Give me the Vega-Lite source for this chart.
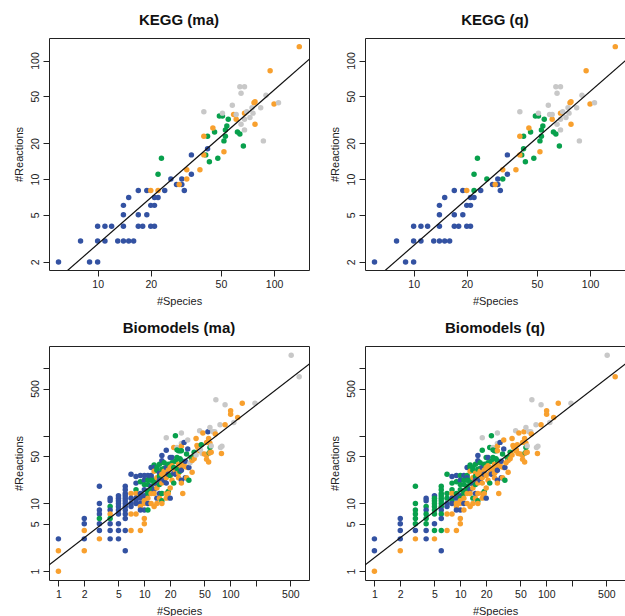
{
  "$schema": "https://vega.github.io/schema/vega-lite/v6.json",
  "background": "white",
  "padding": {"left": 12, "top": 12, "right": 0, "bottom": 0},
  "bounds": "flush",
  "columns": 2,
  "spacing": {"row": 76, "column": 56},
  "resolve": {"scale": {"x": "independent", "y": "independent"}},
  "config": {
    "font": "Liberation Sans",
    "view": {"stroke": "#222", "strokeWidth": 1, "fill": "white"},
    "axis": {
      "domain": false, "grid": false, "ticks": true, "tickSize": 6, "tickColor": "#222", "tickWidth": 1,
      "labelFont": "Liberation Sans", "labelFontSize": 10.5, "labelColor": "#222", "labelPadding": 3,
      "titleFont": "Liberation Sans", "titleFontSize": 11, "titleFontWeight": "normal", "titleColor": "#222", "titlePadding": 6,
      "labelOverlap": false, "labelFlush": false
    },
    "axisY": {"labelAngle": -90, "labelAlign": "center", "labelBaseline": "bottom"},
    "title": {"font": "Liberation Sans", "fontSize": 15, "fontWeight": "bold", "color": "#111", "offset": 10, "anchor": "middle"}
  },
  "datasets": {
    "kegg": [
      {"s":6,"r":2,"m":"b","q":"b"},{"s":8,"r":3,"m":"b","q":"b"},{"s":9,"r":2,"m":"b","q":"b"},{"s":10,"r":2,"m":"b","q":"b"},
      {"s":10,"r":3,"m":"b","q":"b"},{"s":10,"r":4,"m":"b","q":"b"},{"s":11,"r":3,"m":"b","q":"b"},{"s":11,"r":4,"m":"b","q":"b"},
      {"s":12,"r":4,"m":"b","q":"b"},{"s":13,"r":3,"m":"b","q":"b"},{"s":14,"r":3,"m":"b","q":"b"},{"s":14,"r":4,"m":"b","q":"b"},
      {"s":14,"r":5,"m":"b","q":"b"},{"s":14,"r":6,"m":"b","q":"b"},{"s":15,"r":7,"m":"b","q":"b"},{"s":15,"r":3,"m":"b","q":"b"},
      {"s":16,"r":3,"m":"b","q":"b"},{"s":17,"r":8,"m":"b","q":"b"},{"s":17,"r":5,"m":"b","q":"b"},{"s":17,"r":4,"m":"b","q":"b"},
      {"s":18,"r":4,"m":"b","q":"b"},{"s":19,"r":8,"m":"b","q":"b"},{"s":19,"r":5,"m":"b","q":"b"},{"s":20,"r":6,"m":"b","q":"b"},
      {"s":20,"r":4,"m":"b","q":"b"},{"s":21,"r":6,"m":"b","q":"b"},{"s":21,"r":4,"m":"b","q":"b"},{"s":21,"r":7,"m":"b","q":"b"},
      {"s":22,"r":7,"m":"b","q":"b"},{"s":24,"r":8,"m":"b","q":"b"},{"s":26,"r":10,"m":"b","q":"g"},{"s":28,"r":9,"m":"b","q":"b"},
      {"s":30,"r":9,"m":"b","q":"b"},{"s":30,"r":10,"m":"b","q":"b"},{"s":31,"r":8,"m":"b","q":"b"},{"s":34,"r":16,"m":"b","q":"b"},
      {"s":34,"r":11,"m":"b","q":"b"},{"s":42,"r":18,"m":"b","q":"g"},
      {"s":22,"r":11,"m":"g","q":"g"},{"s":23,"r":15,"m":"g","q":"g"},{"s":41,"r":16,"m":"g","q":"g"},{"s":42,"r":23,"m":"g","q":"g"},
      {"s":43,"r":14,"m":"g","q":"g"},{"s":46,"r":25,"m":"g","q":"g"},{"s":48,"r":15,"m":"g","q":"g"},{"s":49,"r":34,"m":"g","q":"g"},
      {"s":51,"r":34,"m":"g","q":"g"},{"s":52,"r":21,"m":"g","q":"g"},{"s":53,"r":26,"m":"g","q":"g"},{"s":53,"r":23,"m":"g","q":"g"},
      {"s":54,"r":28,"m":"g","q":"g"},{"s":55,"r":32,"m":"g","q":"g"},{"s":62,"r":25,"m":"g","q":"g"},{"s":64,"r":24,"m":"g","q":"g"},
      {"s":67,"r":19,"m":"g","q":"g"},
      {"s":20,"r":8,"m":"o","q":"o"},{"s":22,"r":8,"m":"o","q":"g"},{"s":29,"r":9,"m":"o","q":"o"},{"s":32,"r":10,"m":"o","q":"g"},
      {"s":32,"r":12,"m":"o","q":"o"},{"s":38,"r":12,"m":"o","q":"o"},{"s":40,"r":23,"m":"o","q":"o"},{"s":40,"r":16,"m":"o","q":"o"},
      {"s":45,"r":27,"m":"o","q":"o"},{"s":52,"r":17,"m":"o","q":"o"},{"s":59,"r":35,"m":"o","q":"n"},{"s":61,"r":32,"m":"o","q":"o"},
      {"s":68,"r":36,"m":"o","q":"o"},{"s":77,"r":44,"m":"o","q":"o"},{"s":78,"r":45,"m":"o","q":"o"},{"s":78,"r":29,"m":"o","q":"o"},
      {"s":95,"r":82,"m":"o","q":"o"},{"s":100,"r":43,"m":"o","q":"o"},{"s":139,"r":131,"m":"o","q":"o"},
      {"s":40,"r":37,"m":"n","q":"n"},{"s":51,"r":36,"m":"n","q":"n"},{"s":58,"r":42,"m":"n","q":"n"},{"s":61,"r":35,"m":"n","q":"n"},
      {"s":64,"r":60,"m":"n","q":"n"},{"s":65,"r":53,"m":"n","q":"n"},{"s":68,"r":60,"m":"n","q":"n"},{"s":65,"r":29,"m":"n","q":"n"},
      {"s":68,"r":32,"m":"n","q":"n"},{"s":68,"r":26,"m":"n","q":"n"},{"s":70,"r":37,"m":"n","q":"n"},{"s":73,"r":33,"m":"n","q":"n"},
      {"s":75,"r":40,"m":"n","q":"n"},{"s":76,"r":36,"m":"n","q":"n"},{"s":84,"r":40,"m":"n","q":"n"},{"s":87,"r":21,"m":"n","q":"n"},
      {"s":90,"r":51,"m":"n","q":"n"},{"s":106,"r":44,"m":"n","q":"n"}
    ],
    "bio": [
      {"s":1,"r":3,"m":"b","q":"b"},{"s":1,"r":2,"m":"o","q":"b"},{"s":1,"r":1,"m":"o","q":"o"},
      {"s":2,"r":6,"m":"b","q":"b"},{"s":2,"r":5,"m":"b","q":"b"},{"s":2,"r":4,"m":"o","q":"b"},{"s":2,"r":3,"m":"b","q":"b"},{"s":2,"r":2,"m":"o","q":"o"},
      {"s":3,"r":18,"m":"b","q":"g"},{"s":3,"r":10,"m":"b","q":"g"},{"s":3,"r":8,"m":"b","q":"g"},{"s":3,"r":7,"m":"b","q":"g"},
      {"s":3,"r":6,"m":"g","q":"g"},{"s":3,"r":5,"m":"b","q":"g"},{"s":3,"r":4,"m":"b","q":"b"},{"s":3,"r":3,"m":"o","q":"o"},
      {"s":4,"r":12,"m":"b","q":"b"},{"s":4,"r":11,"m":"b","q":"b"},{"s":4,"r":9,"m":"g","q":"g"},{"s":4,"r":8,"m":"b","q":"b"},
      {"s":4,"r":7,"m":"o","q":"g"},{"s":4,"r":6,"m":"g","q":"g"},{"s":4,"r":5,"m":"b","q":"g"},{"s":4,"r":4,"m":"b","q":"b"},{"s":4,"r":3,"m":"b","q":"b"},
      {"s":5,"r":13,"m":"b","q":"b"},{"s":5,"r":12,"m":"b","q":"g"},{"s":5,"r":11,"m":"b","q":"g"},{"s":5,"r":10,"m":"b","q":"g"},
      {"s":5,"r":9,"m":"b","q":"g"},{"s":5,"r":8,"m":"b","q":"g"},{"s":5,"r":7,"m":"b","q":"g"},{"s":5,"r":5,"m":"b","q":"b"},
      {"s":5,"r":4,"m":"b","q":"g"},{"s":5,"r":3,"m":"b","q":"o"},
      {"s":6,"r":18,"m":"b","q":"g"},{"s":6,"r":16,"m":"b","q":"g"},{"s":6,"r":14,"m":"b","q":"g"},{"s":6,"r":13,"m":"b","q":"g"},
      {"s":6,"r":12,"m":"b","q":"g"},{"s":6,"r":11,"m":"b","q":"g"},{"s":6,"r":10,"m":"b","q":"g"},{"s":6,"r":9,"m":"b","q":"g"},
      {"s":6,"r":8,"m":"b","q":"b"},{"s":6,"r":7,"m":"b","q":"g"},{"s":6,"r":6,"m":"b","q":"b"},{"s":6,"r":4,"m":"b","q":"g"},{"s":6,"r":2,"m":"b","q":"b"},
      {"s":7,"r":27,"m":"b","q":"g"},{"s":7,"r":14,"m":"o","q":"g"},{"s":7,"r":12,"m":"b","q":"g"},{"s":7,"r":10,"m":"b","q":"b"},
      {"s":7,"r":9,"m":"b","q":"b"},{"s":7,"r":7,"m":"o","q":"o"},{"s":7,"r":4,"m":"o","q":"o"},
      {"s":8,"r":25,"m":"b","q":"b"},{"s":8,"r":20,"m":"b","q":"g"},{"s":8,"r":16,"m":"g","q":"g"},{"s":8,"r":14,"m":"o","q":"o"},
      {"s":8,"r":12,"m":"b","q":"b"},{"s":8,"r":11,"m":"b","q":"g"},{"s":8,"r":10,"m":"b","q":"b"},{"s":8,"r":7,"m":"o","q":"o"},
      {"s":9,"r":26,"m":"b","q":"b"},{"s":9,"r":21,"m":"g","q":"g"},{"s":9,"r":14,"m":"b","q":"g"},{"s":9,"r":12,"m":"b","q":"b"},
      {"s":9,"r":10,"m":"b","q":"o"},{"s":9,"r":9,"m":"o","q":"o"},{"s":9,"r":8,"m":"b","q":"b"},{"s":9,"r":4,"m":"o","q":"o"},
      {"s":10,"r":26,"m":"b","q":"g"},{"s":10,"r":22,"m":"b","q":"b"},{"s":10,"r":19,"m":"g","q":"g"},{"s":10,"r":16,"m":"b","q":"g"},
      {"s":10,"r":13,"m":"b","q":"b"},{"s":10,"r":12,"m":"b","q":"g"},{"s":10,"r":11,"m":"o","q":"o"},{"s":10,"r":10,"m":"o","q":"o"},
      {"s":10,"r":8,"m":"b","q":"b"},{"s":10,"r":6,"m":"o","q":"o"},{"s":10,"r":5,"m":"o","q":"o"},
      {"s":11,"r":26,"m":"b","q":"b"},{"s":11,"r":22,"m":"g","q":"g"},{"s":11,"r":19,"m":"g","q":"g"},{"s":11,"r":15,"m":"g","q":"g"},{"s":11,"r":14,"m":"g","q":"g"},
      {"s":11,"r":12,"m":"o","q":"o"},{"s":11,"r":10,"m":"b","q":"b"},{"s":11,"r":8,"m":"g","q":"o"},
      {"s":12,"r":34,"m":"b","q":"b"},{"s":12,"r":26,"m":"b","q":"g"},{"s":12,"r":24,"m":"b","q":"b"},{"s":12,"r":22,"m":"g","q":"g"},
      {"s":12,"r":18,"m":"b","q":"g"},{"s":12,"r":16,"m":"g","q":"g"},{"s":12,"r":14,"m":"o","q":"o"},{"s":12,"r":10,"m":"o","q":"o"},
      {"s":13,"r":37,"m":"g","q":"g"},{"s":13,"r":34,"m":"b","q":"g"},{"s":13,"r":30,"m":"o","q":"o"},{"s":13,"r":22,"m":"g","q":"g"},
      {"s":13,"r":20,"m":"g","q":"g"},{"s":13,"r":16,"m":"b","q":"b"},{"s":13,"r":14,"m":"o","q":"o"},{"s":13,"r":9,"m":"o","q":"o"},
      {"s":14,"r":34,"m":"g","q":"g"},{"s":14,"r":31,"m":"g","q":"g"},{"s":14,"r":24,"m":"o","q":"o"},{"s":14,"r":19,"m":"b","q":"b"},
      {"s":14,"r":17,"m":"o","q":"o"},{"s":14,"r":12,"m":"b","q":"g"},{"s":14,"r":10,"m":"o","q":"o"},
      {"s":15,"r":38,"m":"g","q":"g"},{"s":15,"r":28,"m":"b","q":"o"},{"s":15,"r":25,"m":"g","q":"g"},{"s":15,"r":22,"m":"b","q":"b"},{"s":15,"r":19,"m":"g","q":"g"},
      {"s":15,"r":14,"m":"b","q":"b"},{"s":15,"r":12,"m":"o","q":"o"},
      {"s":16,"r":51,"m":"b","q":"b"},{"s":16,"r":43,"m":"b","q":"b"},{"s":16,"r":32,"m":"g","q":"g"},{"s":16,"r":27,"m":"o","q":"o"},{"s":16,"r":20,"m":"o","q":"o"},
      {"s":16,"r":14,"m":"g","q":"o"},{"s":16,"r":11,"m":"g","q":"g"},{"s":16,"r":10,"m":"o","q":"o"},
      {"s":17,"r":40,"m":"g","q":"g"},{"s":17,"r":33,"m":"g","q":"g"},{"s":17,"r":30,"m":"o","q":"o"},{"s":17,"r":22,"m":"b","q":"b"},{"s":17,"r":27,"m":"o","q":"o"},
      {"s":18,"r":94,"m":"n","q":"n"},{"s":18,"r":61,"m":"b","q":"g"},{"s":18,"r":34,"m":"b","q":"b"},{"s":18,"r":24,"m":"o","q":"o"},
      {"s":18,"r":20,"m":"b","q":"o"},{"s":18,"r":14,"m":"o","q":"o"},{"s":18,"r":12,"m":"o","q":"o"},
      {"s":19,"r":38,"m":"g","q":"g"},{"s":19,"r":31,"m":"o","q":"o"},{"s":19,"r":27,"m":"b","q":"b"},{"s":19,"r":15,"m":"g","q":"g"},{"s":19,"r":14,"m":"o","q":"o"},
      {"s":20,"r":48,"m":"b","q":"g"},{"s":20,"r":34,"m":"o","q":"o"},{"s":20,"r":26,"m":"g","q":"o"},{"s":20,"r":17,"m":"o","q":"o"},{"s":20,"r":12,"m":"b","q":"b"},
      {"s":21,"r":48,"m":"b","q":"b"},{"s":21,"r":40,"m":"g","q":"g"},{"s":21,"r":36,"m":"o","q":"o"},{"s":21,"r":22,"m":"o","q":"o"},
      {"s":22,"r":67,"m":"o","q":"g"},{"s":22,"r":34,"m":"g","q":"o"},{"s":22,"r":28,"m":"b","q":"o"},{"s":22,"r":20,"m":"g","q":"g"},
      {"s":23,"r":100,"m":"g","q":"g"},{"s":23,"r":42,"m":"g","q":"g"},{"s":23,"r":30,"m":"o","q":"o"},{"s":23,"r":27,"m":"b","q":"b"},
      {"s":24,"r":67,"m":"n","q":"n"},{"s":24,"r":62,"m":"g","q":"g"},{"s":24,"r":48,"m":"g","q":"g"},{"s":24,"r":33,"m":"g","q":"o"},
      {"s":25,"r":60,"m":"g","q":"g"},{"s":25,"r":38,"m":"o","q":"o"},{"s":25,"r":28,"m":"o","q":"o"},{"s":25,"r":24,"m":"o","q":"o"},
      {"s":26,"r":60,"m":"g","q":"g"},{"s":26,"r":46,"m":"g","q":"g"},{"s":26,"r":30,"m":"g","q":"o"},
      {"s":27,"r":110,"m":"n","q":"n"},{"s":27,"r":77,"m":"n","q":"n"},{"s":27,"r":70,"m":"o","q":"o"},{"s":27,"r":60,"m":"g","q":"o"},
      {"s":27,"r":43,"m":"g","q":"g"},{"s":27,"r":34,"m":"o","q":"o"},{"s":27,"r":31,"m":"b","q":"b"},{"s":27,"r":22,"m":"b","q":"b"},
      {"s":27,"r":20,"m":"o","q":"o"},{"s":28,"r":38,"m":"o","q":"o"},{"s":28,"r":14,"m":"o","q":"o"},
      {"s":29,"r":80,"m":"b","q":"b"},{"s":30,"r":42,"m":"b","q":"b"},{"s":30,"r":35,"m":"o","q":"o"},{"s":30,"r":24,"m":"b","q":"b"},
      {"s":31,"r":54,"m":"g","q":"g"},{"s":31,"r":24,"m":"o","q":"o"},
      {"s":32,"r":87,"m":"n","q":"o"},{"s":32,"r":64,"m":"b","q":"b"},{"s":32,"r":34,"m":"o","q":"o"},
      {"s":33,"r":34,"m":"b","q":"b"},{"s":33,"r":22,"m":"g","q":"g"},{"s":34,"r":40,"m":"n","q":"o"},
      {"s":35,"r":48,"m":"g","q":"g"},{"s":36,"r":43,"m":"o","q":"o"},{"s":36,"r":29,"m":"o","q":"o"},
      {"s":37,"r":48,"m":"g","q":"g"},{"s":38,"r":57,"m":"g","q":"g"},{"s":38,"r":46,"m":"o","q":"o"},
      {"s":40,"r":91,"m":"o","q":"o"},{"s":40,"r":52,"m":"n","q":"o"},{"s":41,"r":72,"m":"o","q":"o"},{"s":42,"r":67,"m":"o","q":"o"},
      {"s":44,"r":119,"m":"n","q":"n"},{"s":44,"r":60,"m":"o","q":"o"},{"s":45,"r":62,"m":"n","q":"o"},{"s":46,"r":74,"m":"g","q":"o"},
      {"s":47,"r":55,"m":"n","q":"o"},{"s":48,"r":110,"m":"o","q":"o"},
      {"s":50,"r":54,"m":"o","q":"o"},{"s":53,"r":80,"m":"o","q":"o"},{"s":53,"r":52,"m":"o","q":"o"},{"s":53,"r":45,"m":"o","q":"o"},
      {"s":55,"r":115,"m":"b","q":"o"},{"s":56,"r":91,"m":"o","q":"o"},{"s":56,"r":41,"m":"o","q":"o"},{"s":57,"r":56,"m":"g","q":"g"},
      {"s":58,"r":133,"m":"n","q":"n"},{"s":58,"r":78,"m":"o","q":"o"},{"s":58,"r":67,"m":"g","q":"g"},{"s":58,"r":56,"m":"o","q":"o"},
      {"s":60,"r":71,"m":"n","q":"n"},{"s":60,"r":57,"m":"o","q":"o"},
      {"s":63,"r":115,"m":"n","q":"n"},{"s":66,"r":115,"m":"n","q":"n"},{"s":67,"r":106,"m":"o","q":"o"},
      {"s":68,"r":340,"m":"n","q":"n"},{"s":76,"r":146,"m":"n","q":"n"},{"s":77,"r":67,"m":"n","q":"n"},{"s":79,"r":55,"m":"o","q":"o"},
      {"s":80,"r":70,"m":"n","q":"n"},{"s":87,"r":287,"m":"n","q":"n"},{"s":87,"r":146,"m":"o","q":"o"},
      {"s":101,"r":234,"m":"o","q":"o"},{"s":101,"r":209,"m":"o","q":"o"},{"s":110,"r":157,"m":"n","q":"n"},
      {"s":122,"r":187,"m":"o","q":"o"},{"s":138,"r":304,"m":"o","q":"o"},{"s":194,"r":304,"m":"n","q":"n"},
      {"s":512,"r":1556,"m":"n","q":"n"},{"s":634,"r":745,"m":"n","q":"o"}
    ],
    "lines": [
      {"p":"k1","s":5,"r":1.147},{"p":"k1","s":160,"r":103.8},
      {"p":"k2","s":5,"r":1.117},{"p":"k2","s":160,"r":100.9},
      {"p":"b","s":0.7,"r":1.117},{"p":"b","s":900,"r":1244}
    ]
  },
  "concat": [
    {
      "title": "KEGG (ma)",
      "width": 260, "height": 232,
      "layer": [
        {"data": {"name": "kegg"}, "mark": {"type": "circle", "size": 30, "opacity": 1},
         "encoding": {
           "x": {"field": "s", "type": "quantitative", "title": "#Species", "scale": {"type": "log", "domain": [5.3, 157.8], "nice": false}, "axis": {"values": [10, 20, 50, 100], "format": "d"}},
           "y": {"field": "r", "type": "quantitative", "title": "#Reactions", "scale": {"type": "log", "domain": [1.71, 154.9], "nice": false}, "axis": {"values": [2, 5, 10, 20, 50, 100], "format": "d"}},
           "color": {"field": "m", "type": "nominal", "scale": {"domain": ["b", "g", "o", "n"], "range": ["#3352a2", "#08a04c", "#f8a02e", "#c8c8c8"]}, "legend": null}
         }},
        {"data": {"name": "lines"}, "transform": [{"filter": "datum.p == 'k1'"}], "mark": {"type": "line", "color": "#111", "strokeWidth": 1.2, "clip": true},
         "encoding": {"x": {"field": "s", "type": "quantitative", "title": "#Species"}, "y": {"field": "r", "type": "quantitative", "title": "#Reactions"}}}
      ]
    },
    {
      "title": "KEGG (q)",
      "width": 260, "height": 232,
      "layer": [
        {"data": {"name": "kegg"}, "mark": {"type": "circle", "size": 30, "opacity": 1},
         "encoding": {
           "x": {"field": "s", "type": "quantitative", "title": "#Species", "scale": {"type": "log", "domain": [5.3, 157.8], "nice": false}, "axis": {"values": [10, 20, 50, 100], "format": "d"}},
           "y": {"field": "r", "type": "quantitative", "title": "#Reactions", "scale": {"type": "log", "domain": [1.71, 154.9], "nice": false}, "axis": {"values": [2, 5, 10, 20, 50, 100], "format": "d"}},
           "color": {"field": "q", "type": "nominal", "scale": {"domain": ["b", "g", "o", "n"], "range": ["#3352a2", "#08a04c", "#f8a02e", "#c8c8c8"]}, "legend": null}
         }},
        {"data": {"name": "lines"}, "transform": [{"filter": "datum.p == 'k2'"}], "mark": {"type": "line", "color": "#111", "strokeWidth": 1.2, "clip": true},
         "encoding": {"x": {"field": "s", "type": "quantitative", "title": "#Species"}, "y": {"field": "r", "type": "quantitative", "title": "#Reactions"}}}
      ]
    },
    {
      "title": "Biomodels (ma)",
      "width": 260, "height": 234,
      "layer": [
        {"data": {"name": "bio"}, "mark": {"type": "circle", "size": 30, "opacity": 1},
         "encoding": {
           "x": {"field": "s", "type": "quantitative", "title": "#Species", "scale": {"type": "log", "domain": [0.777, 825], "nice": false}, "axis": {"values": [1, 2, 5, 10, 20, 50, 100, 200, 500], "format": "d", "labelExpr": "datum.value == 200 ? '' : datum.label"}},
           "y": {"field": "r", "type": "quantitative", "title": "#Reactions", "scale": {"type": "log", "domain": [0.74, 2125], "nice": false}, "axis": {"values": [1, 5, 10, 50, 100, 500, 1000], "format": "d", "labelExpr": "datum.value == 100 || datum.value == 1000 ? '' : datum.label"}},
           "color": {"field": "m", "type": "nominal", "scale": {"domain": ["b", "g", "o", "n"], "range": ["#3352a2", "#08a04c", "#f8a02e", "#c8c8c8"]}, "legend": null}
         }},
        {"data": {"name": "lines"}, "transform": [{"filter": "datum.p == 'b'"}], "mark": {"type": "line", "color": "#111", "strokeWidth": 1.2, "clip": true},
         "encoding": {"x": {"field": "s", "type": "quantitative", "title": "#Species"}, "y": {"field": "r", "type": "quantitative", "title": "#Reactions"}}}
      ]
    },
    {
      "title": "Biomodels (q)",
      "width": 260, "height": 234,
      "layer": [
        {"data": {"name": "bio"}, "mark": {"type": "circle", "size": 30, "opacity": 1},
         "encoding": {
           "x": {"field": "s", "type": "quantitative", "title": "#Species", "scale": {"type": "log", "domain": [0.777, 825], "nice": false}, "axis": {"values": [1, 2, 5, 10, 20, 50, 100, 200, 500], "format": "d", "labelExpr": "datum.value == 200 ? '' : datum.label"}},
           "y": {"field": "r", "type": "quantitative", "title": "#Reactions", "scale": {"type": "log", "domain": [0.74, 2125], "nice": false}, "axis": {"values": [1, 5, 10, 50, 100, 500, 1000], "format": "d", "labelExpr": "datum.value == 100 || datum.value == 1000 ? '' : datum.label"}},
           "color": {"field": "q", "type": "nominal", "scale": {"domain": ["b", "g", "o", "n"], "range": ["#3352a2", "#08a04c", "#f8a02e", "#c8c8c8"]}, "legend": null}
         }},
        {"data": {"name": "lines"}, "transform": [{"filter": "datum.p == 'b'"}], "mark": {"type": "line", "color": "#111", "strokeWidth": 1.2, "clip": true},
         "encoding": {"x": {"field": "s", "type": "quantitative", "title": "#Species"}, "y": {"field": "r", "type": "quantitative", "title": "#Reactions"}}}
      ]
    }
  ]
}
